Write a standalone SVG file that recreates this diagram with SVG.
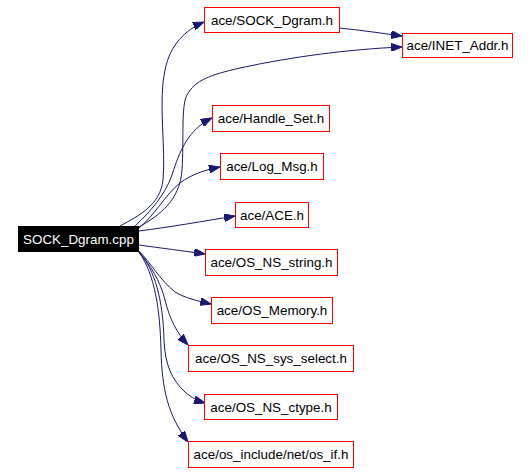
<svg xmlns="http://www.w3.org/2000/svg" width="528" height="472" viewBox="0 0 528 472">
<defs>
<style>
.n rect{fill:#ffffff;stroke:#ff0000;stroke-width:1}
.n text{font-family:"Liberation Sans",Arial,sans-serif;font-size:13.4px;fill:#000000;text-anchor:middle}
#root rect{fill:#000000;stroke:#000000}
#root text{fill:#ffffff}
.e path{fill:none;stroke:#191970;stroke-width:1}
</style>
<marker id="ah" viewBox="0 0 11 8" refX="11" refY="4" markerWidth="11" markerHeight="8" markerUnits="userSpaceOnUse" orient="auto">
<path d="M0,0 L11,4 L0,8 z" fill="#191970" stroke="#191970"/>
</marker>
</defs>
<rect width="528" height="472" fill="#ffffff"/>
<g id="edges" class="e">
<path marker-end="url(#ah)" d="M120,226 C140,215 160,205 163,180 C166,150 158,100 165,70 C170,45 185,30 204,22"/>
<path marker-end="url(#ah)" d="M139,227 C160,215 180,200 182,170 C184,140 181,105 187,95 C195,80 210,75 240,68 C290,57 350,49 402,47"/>
<path marker-end="url(#ah)" d="M339,28 C360,30 380,33 402,36"/>
<path marker-end="url(#ah)" d="M135,226 C150,212 165,195 172,175 C180,150 188,130 212,118"/>
<path marker-end="url(#ah)" d="M139,228 C155,215 165,195 180,183 C192,174 205,170 220,167"/>
<path marker-end="url(#ah)" d="M139,231 C170,227 205,221 235,216"/>
<path marker-end="url(#ah)" d="M139,245 C160,248 185,251 205,254"/>
<path marker-end="url(#ah)" d="M139,251 C150,262 160,280 175,292 C185,298 198,301 211,304"/>
<path marker-end="url(#ah)" d="M139,252 C150,265 160,280 165,300 C170,320 177,333 188,345"/>
<path marker-end="url(#ah)" d="M139,252 C155,270 163,300 164,340 C165,365 172,380 185,392 C192,398 198,401 205,403"/>
<path marker-end="url(#ah)" d="M139,252 C155,275 160,310 161,350 C162,390 168,415 188,442"/>
</g>
<g id="root" class="n"><rect x="18.5" y="226.5" width="120" height="25"/><text x="78.5" y="243.5">SOCK_Dgram.cpp</text></g>
<g id="n1" class="n"><rect x="204.5" y="7.5" width="135" height="25"/><text x="272" y="24.5">ace/SOCK_Dgram.h</text></g>
<g id="n2" class="n"><rect x="402.5" y="33.5" width="110" height="24"/><text x="457.5" y="50">ace/INET_Addr.h</text></g>
<g id="n3" class="n"><rect x="212.5" y="105.5" width="117" height="26"/><text x="271" y="123">ace/Handle_Set.h</text></g>
<g id="n4" class="n"><rect x="220.5" y="153.5" width="103" height="26"/><text x="272" y="171">ace/Log_Msg.h</text></g>
<g id="n5" class="n"><rect x="235.5" y="202.5" width="73" height="25"/><text x="272" y="219.5">ace/ACE.h</text></g>
<g id="n6" class="n"><rect x="205.5" y="249.5" width="132" height="26"/><text x="271.5" y="267">ace/OS_NS_string.h</text></g>
<g id="n7" class="n"><rect x="211.5" y="297.5" width="121" height="26"/><text x="272" y="315">ace/OS_Memory.h</text></g>
<g id="n8" class="n"><rect x="188.5" y="345.5" width="165" height="26"/><text x="271" y="363">ace/OS_NS_sys_select.h</text></g>
<g id="n9" class="n"><rect x="204.5" y="394.5" width="133" height="25"/><text x="271" y="411.5">ace/OS_NS_ctype.h</text></g>
<g id="n10" class="n"><rect x="188.5" y="441.5" width="165" height="26"/><text x="271" y="459">ace/os_include/net/os_if.h</text></g>
</svg>
